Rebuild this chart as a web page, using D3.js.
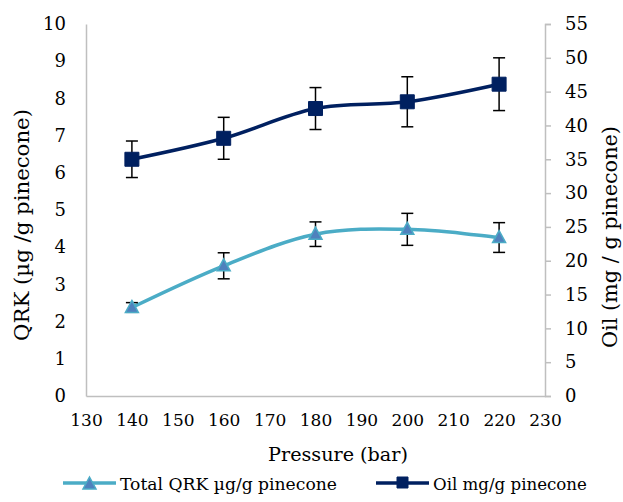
<!DOCTYPE html>
<html>
<head>
<meta charset="utf-8">
<script src="https://cdn.jsdelivr.net/npm/d3@7"></script>
<style>
  body { margin: 0; background: #fff; }
  svg text { font-family: "DejaVu Serif", serif; fill: #000; }
</style>
</head>
<body>
<div id="chart"></div>
<script>
var width = 623;
var height = 502;

// data
var pressure = [140, 160, 180, 200, 220];
var qrk = [2.38, 3.50, 4.35, 4.48, 4.26];
var qrkErr = [0.13, 0.35, 0.33, 0.43, 0.40];
var oil = [35.0, 38.1, 42.5, 43.5, 46.1];
var oilErr = [2.7, 3.1, 3.1, 3.7, 3.9];
var xTicks = [130, 140, 150, 160, 170, 180, 190, 200, 210, 220, 230];
var leftTicks = [0, 1, 2, 3, 4, 5, 6, 7, 8, 9, 10];
var rightTicks = [0, 5, 10, 15, 20, 25, 30, 35, 40, 45, 50, 55];

var qrkColor = "#4BACC6";
var qrkMarker = "#4F81BD";
var oilColor = "#002060";
var axisColor = "#BFBFBF";

var svg = d3.select("#chart").append("svg")
  .attr("width", width)
  .attr("height", height);

var xScale = d3.scaleLinear().domain([130, 230]).range([86, 545]);
var yLeft = d3.scaleLinear().domain([0, 10]).range([396, 24]);
var yRight = d3.scaleLinear().domain([0, 55]).range([396, 24]);

// axes
var xAxis = svg.append("g")
  .attr("transform", "translate(0,396)")
  .call(d3.axisBottom(xScale).tickValues(xTicks).tickSize(0).tickPadding(18));
var lAxis = svg.append("g")
  .attr("transform", "translate(86,0)")
  .call(d3.axisLeft(yLeft).tickValues(leftTicks).tickSize(0).tickPadding(20));
var rAxis = svg.append("g")
  .attr("transform", "translate(545,0)")
  .call(d3.axisRight(yRight).tickValues(rightTicks).tickSize(6).tickPadding(14));

[xAxis, lAxis, rAxis].forEach(function (g) {
  g.attr("font-family", null).attr("font-size", null);
  g.select(".domain").attr("stroke", axisColor).attr("stroke-width", 1.5);
  g.selectAll(".tick line").attr("stroke", axisColor).attr("stroke-width", 1.5);
  g.selectAll(".tick text").attr("font-size", 18);
});
xAxis.selectAll(".tick text").attr("font-size", 17).attr("dy", "0.71em");

// squeeze or stretch a label to the width it has in the reference
function fitText(sel, target) {
  var len = sel.node().getComputedTextLength();
  var size = +sel.attr("font-size");
  sel.attr("font-size", size * target / len);
}

// axis titles
var xTitle = svg.append("text")
  .attr("x", 338).attr("y", 461)
  .attr("text-anchor", "middle")
  .attr("font-size", 20)
  .text("Pressure (bar)");
fitText(xTitle, 140);

var lTitle = svg.append("text")
  .attr("transform", "translate(29,225) rotate(-90)")
  .attr("text-anchor", "middle")
  .attr("font-size", 20)
  .text("QRK (µg /g pinecone)");
fitText(lTitle, 232);

var rTitle = svg.append("text")
  .attr("transform", "translate(617,237) rotate(-90)")
  .attr("text-anchor", "middle")
  .attr("font-size", 20)
  .text("Oil (mg / g pinecone)");
fitText(rTitle, 222);

var line = d3.line().curve(d3.curveCardinal.tension(0));

function drawSeries(values, errs, yScale, color, markerFn) {
  var pts = pressure.map(function (p, i) { return [xScale(p), yScale(values[i])]; });
  var g = svg.append("g");
  g.append("path")
    .attr("d", line(pts))
    .attr("fill", "none")
    .attr("stroke", color)
    .attr("stroke-width", 3.5);

  var eb = g.selectAll(".err").data(pressure).enter().append("g");
  eb.append("line")
    .attr("x1", function (d) { return xScale(d); })
    .attr("x2", function (d) { return xScale(d); })
    .attr("y1", function (d, i) { return yScale(values[i] - errs[i]); })
    .attr("y2", function (d, i) { return yScale(values[i] + errs[i]); })
    .attr("stroke", "#000").attr("stroke-width", 1.5);
  [1, -1].forEach(function (s) {
    eb.append("line")
      .attr("x1", function (d) { return xScale(d) - 6; })
      .attr("x2", function (d) { return xScale(d) + 6; })
      .attr("y1", function (d, i) { return yScale(values[i] + s * errs[i]); })
      .attr("y2", function (d, i) { return yScale(values[i] + s * errs[i]); })
      .attr("stroke", "#000").attr("stroke-width", 1.5);
  });

  g.selectAll(".mk").data(pts).enter().append("path")
    .attr("d", function (d) { return markerFn(d[0], d[1]); })
    .each(function () { styleMarker(d3.select(this), color); });
}

function triangle(x, y) {
  return "M" + x + "," + (y - 7) + "L" + (x + 6.5) + "," + (y + 5) + "L" + (x - 6.5) + "," + (y + 5) + "Z";
}
function square(x, y) {
  return "M" + (x - 7) + "," + (y - 7) + "h14v14h-14Z";
}
function styleMarker(sel, color) {
  if (color === qrkColor) {
    sel.attr("fill", qrkMarker).attr("stroke", qrkColor).attr("stroke-width", 1.5);
  } else {
    sel.attr("fill", oilColor).attr("stroke", oilColor).attr("stroke-width", 1);
  }
}

drawSeries(oil, oilErr, yRight, oilColor, square);
drawSeries(qrk, qrkErr, yLeft, qrkColor, triangle);

// legend
var legend = [
  { name: "Total QRK µg/g pinecone", color: qrkColor, x: 63, w: 217 },
  { name: "Oil mg/g pinecone", color: oilColor, x: 376, w: 154 }
];
legend.forEach(function (d) {
  var g = svg.append("g");
  g.append("line")
    .attr("x1", d.x).attr("x2", d.x + 53)
    .attr("y1", 483).attr("y2", 483)
    .attr("stroke", d.color).attr("stroke-width", 3.5);
  var m = g.append("path").attr("d", d.color === qrkColor
    ? triangle(d.x + 26.5, 484) : "M" + (d.x + 21) + ",477h11v11h-11Z");
  styleMarker(m, d.color);
  var t = g.append("text")
    .attr("x", d.x + 57).attr("y", 490)
    .attr("font-size", 16)
    .text(d.name);
  fitText(t, d.w);
});
</script>
</body>
</html>
